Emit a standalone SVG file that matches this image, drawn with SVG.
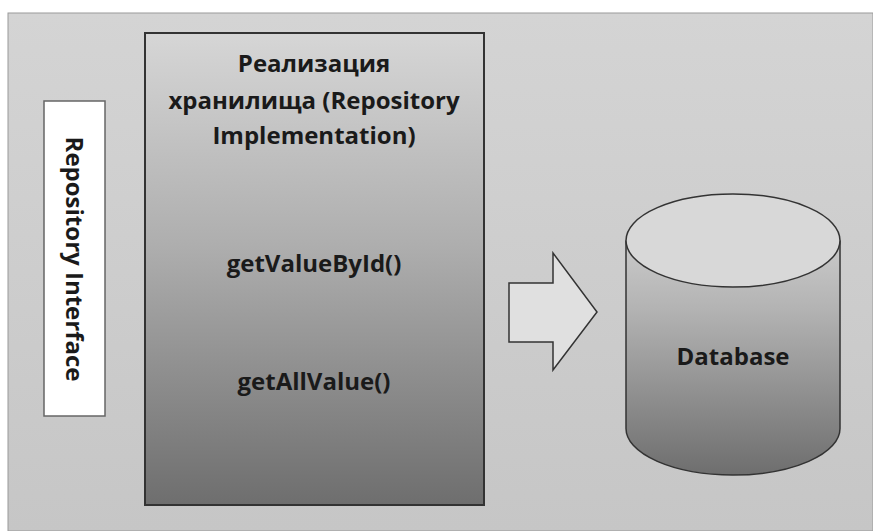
<svg xmlns="http://www.w3.org/2000/svg" width="873" height="531" viewBox="0 0 873 531">
<defs>
<linearGradient id="bg" x1="0" y1="0" x2="0" y2="1"><stop offset="0" stop-color="#d4d4d4"/><stop offset="1" stop-color="#c6c6c6"/></linearGradient>
<linearGradient id="impl" x1="0" y1="0" x2="0" y2="1"><stop offset="0" stop-color="#d6d6d6"/><stop offset="0.45" stop-color="#aeaeae"/><stop offset="1" stop-color="#6e6e6e"/></linearGradient>
<linearGradient id="cyl" gradientUnits="userSpaceOnUse" x1="0" y1="194" x2="0" y2="475"><stop offset="0" stop-color="#dadada"/><stop offset="0.4" stop-color="#b4b4b4"/><stop offset="1" stop-color="#6e6e6e"/></linearGradient>
</defs>
<style>
.t{font-family:"Open Sans","Liberation Sans",sans-serif;font-weight:bold;fill:#1a1a1a;text-anchor:middle;font-size:24px}
.s{stroke:#333;stroke-width:1.5}
</style>
<rect x="0" y="0" width="873" height="531" fill="#ffffff"/>
<rect x="8" y="13" width="865" height="518" fill="url(#bg)" stroke="#9a9a9a" stroke-width="1"/>
<g id="repo-interface">
<rect x="44" y="101" width="61" height="315" fill="#ffffff" stroke="#666" stroke-width="1.5"/>
<text class="t" transform="translate(66,259) rotate(90)">Repository Interface</text>
</g>
<g id="repo-impl">
<rect x="145" y="33" width="339" height="472" fill="url(#impl)" stroke="#333" stroke-width="2"/>
<text class="t" x="314" y="72">Реализация</text>
<text class="t" x="314" y="109">хранилища (Repository</text>
<text class="t" x="314" y="144">Implementation)</text>
<text class="t" x="314" y="272">getValueById()</text>
<text class="t" x="314" y="390">getAllValue()</text>
</g>
<g id="connectors">
<polygon points="509,283 553,283 553,253 597,312 553,370 553,342 509,342" fill="#e0e0e0" class="s"/>
</g>
<g id="database">
<path d="M626,240.5 L626,428.5 A107,46.5 0 0 0 840,428.5 L840,240.5" fill="url(#cyl)" class="s"/>
<ellipse cx="733" cy="240.5" rx="107" ry="46.5" fill="#d8d8d8" class="s"/>
<text class="t" x="733" y="365">Database</text>
</g>
</svg>
